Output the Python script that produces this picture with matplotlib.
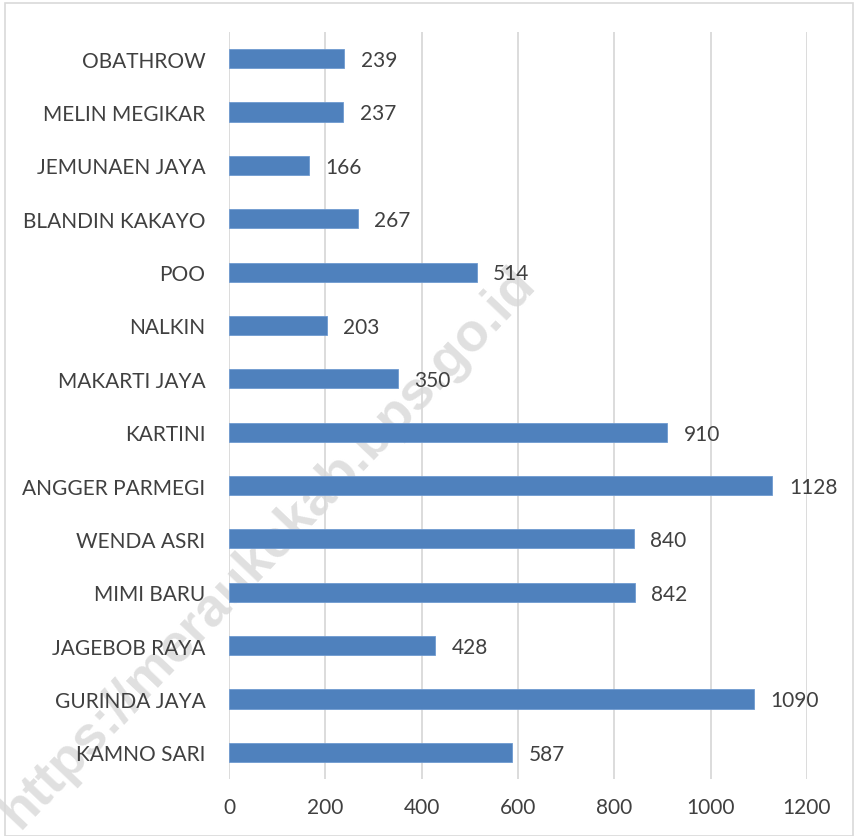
import matplotlib.pyplot as plt
from matplotlib.patches import Rectangle

villages = ['KAMNO SARI', 'GURINDA JAYA', 'JAGEBOB RAYA', 'MIMI BARU', 'WENDA ASRI',
            'ANGGER PARMEGI', 'KARTINI', 'MAKARTI JAYA', 'NALKIN', 'POO',
            'BLANDIN KAKAYO', 'JEMUNAEN JAYA', 'MELIN MEGIKAR', 'OBATHROW']
values = [587, 1090, 428, 842, 840, 1128, 910, 350, 203, 514, 267, 166, 237, 239]
x_ticks = [0, 200, 400, 600, 800, 1000, 1200]

plt.rcParams['font.family'] = ['Lato', 'DejaVu Sans']
text_color = '#404040'
bar_color = '#4F81BD'

fig = plt.figure(figsize=(8.58, 8.37), dpi=100)
ax = fig.add_axes([229 / 858, 1 - 780 / 837, 578 / 858, 747 / 837])

ypos = list(range(len(villages)))
ax.barh(ypos, values, height=0.36, color=bar_color, edgecolor='#6F9AD0', linewidth=0.6, zorder=2)

for y, v in zip(ypos, values):
    ax.annotate(str(v), (v, y), xytext=(12, -1), textcoords='offset points',
                ha='left', va='center', fontsize=15, color=text_color)

ax.set_xlim(0, 1200)
ax.set_ylim(-0.5, len(villages) - 0.5)
ax.set_xticks(x_ticks)
ax.set_yticks(ypos)
ax.set_yticklabels(villages)
ax.tick_params(axis='both', length=0, labelsize=15, labelcolor=text_color)
ax.tick_params(axis='y', pad=17)
ax.tick_params(axis='x', pad=13)
ax.grid(axis='x', color='#D9D9D9', linewidth=1.3, zorder=0)
ax.set_axisbelow(True)
for s in ax.spines.values():
    s.set_visible(False)

# watermark behind everything in the plot
ax.text(268 / 858, 1 - 548 / 837, 'https://meraukekab.bps.go.id', transform=fig.transFigure,
        rotation=46.5, rotation_mode='anchor', ha='center', va='center',
        fontsize=39, fontweight='bold', family='Liberation Sans', color='#E0E0E0',
        zorder=0.2, clip_on=False)

fig.patches.append(Rectangle((5 / 858, 0), 848 / 858, 1 - 4 / 837, transform=fig.transFigure,
                             fill=False, edgecolor='#D9D9D9', linewidth=1.2))

fig.savefig('out.png', dpi=100)
